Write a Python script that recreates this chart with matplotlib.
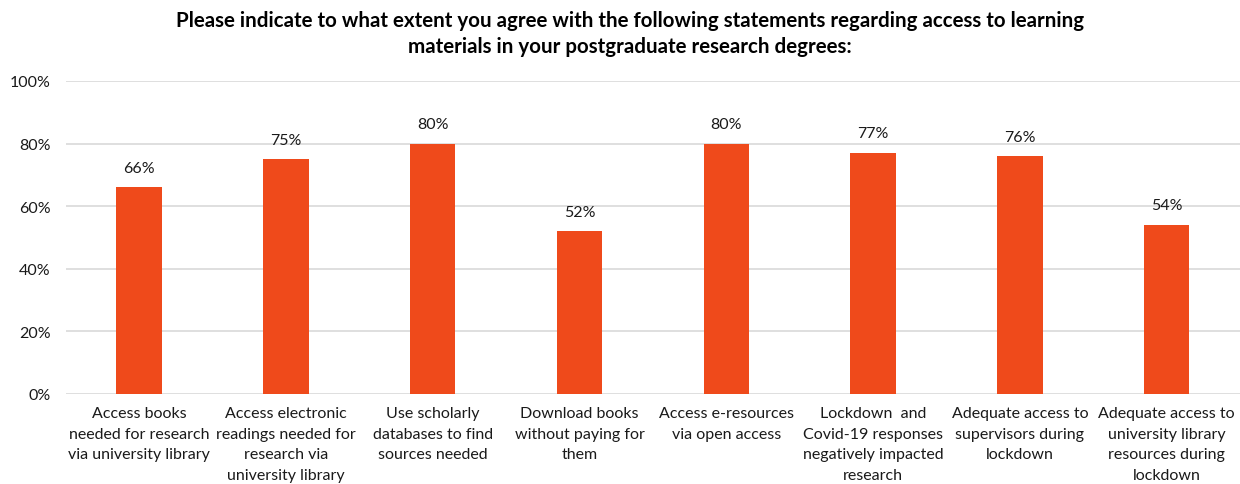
import numpy as np
import matplotlib.pyplot as plt

plt.rcParams['font.family'] = ['Lato', 'DejaVu Sans']

# survey statements and share agreeing
categories = [
    "Access books\nneeded for research\nvia university library",
    "Access electronic\nreadings needed for\nresearch via\nuniversity library",
    "Use scholarly\ndatabases to find\nsources needed",
    "Download books\nwithout paying for\nthem",
    "Access e-resources\nvia open access",
    "Lockdown  and\nCovid-19 responses\nnegatively impacted\nresearch",
    "Adequate access to\nsupervisors during\nlockdown",
    "Adequate access to\nuniversity library\nresources during\nlockdown",
]
values = [66, 75, 80, 52, 80, 77, 76, 54]
yticks = [0, 20, 40, 60, 80, 100]

fig = plt.figure(figsize=(12.4, 4.85), dpi=100)
ax = fig.add_axes([0.053, 0.186, 0.947, 0.645])

x = np.arange(len(categories))
bars = ax.bar(x, values, width=0.31, color='#EF4A1B', zorder=3)

for xi, v in zip(x, values):
    ax.annotate(f"{v}%", (xi, v), xytext=(0, 9), textcoords='offset points',
                ha='center', va='bottom', fontsize=11.5, color='#1a1a1a')

ax.set_xlim(-0.5, len(categories) - 0.5)
ax.set_ylim(0, 100)
ax.set_yticks(yticks)
ax.set_yticklabels([f"{t}%" for t in yticks], fontsize=11.5, color='#1a1a1a')
ax.set_xticks(x)
ax.set_xticklabels(categories, fontsize=11.5, color='#1a1a1a', linespacing=1.6)
ax.tick_params(axis='both', length=0)
ax.tick_params(axis='x', pad=9)
ax.tick_params(axis='y', pad=11)

ax.grid(axis='y', color='#D9D9D9', linewidth=1.2, zorder=0)
for s in ax.spines.values():
    s.set_visible(False)

fig.text(0.508, 0.93, "Please indicate to what extent you agree with the following statements regarding access to learning\nmaterials in your postgraduate research degrees:",
         ha='center', va='center', fontsize=14.8, fontweight='bold', linespacing=1.4)

fig.savefig('out.png', dpi=100)
